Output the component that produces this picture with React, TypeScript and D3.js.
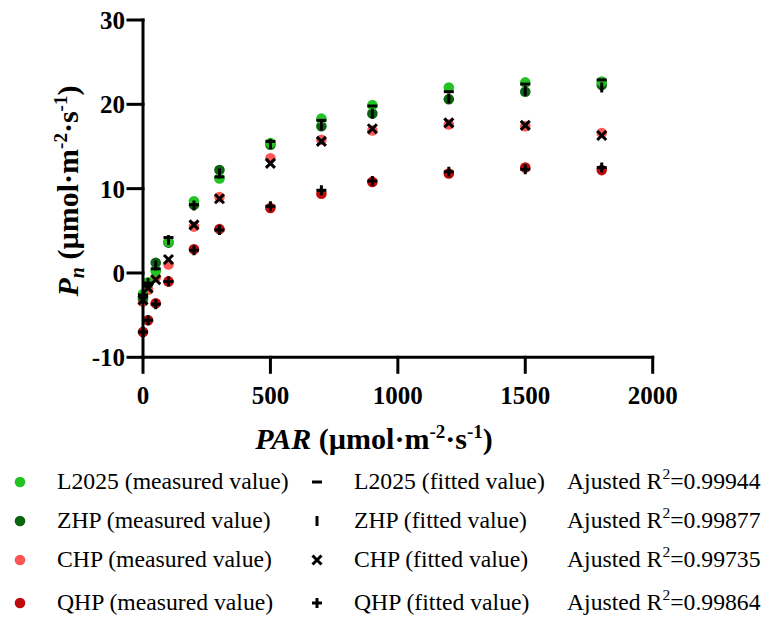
import React from "react";
import * as d3 from "d3";

const PAR = [0, 20, 50, 100, 200, 300, 500, 700, 900, 1200, 1500, 1800];

const L2025_measured = [-2.5, -1.1, 0.2, 3.7, 8.5, 11.2, 15.4, 18.3, 19.9, 22.0, 22.6, 22.7];
const L2025_fitted = [-2.6, -1.2, 0.5, 4.2, 8.1, 11.4, 15.6, 18.1, 19.8, 21.5, 22.4, 22.9];
const ZHP_measured = [-3.0, -1.3, 1.2, 3.6, 8.1, 12.2, 15.2, 17.4, 18.9, 20.6, 21.5, 22.3];
const ZHP_fitted = [-2.9, -1.2, 0.9, 3.9, 8.0, 11.8, 15.3, 17.5, 18.9, 20.7, 21.6, 22.0];
const CHP_measured = [-3.4, -2.0, -0.5, 1.0, 5.5, 9.0, 13.6, 15.8, 16.9, 17.6, 17.4, 16.6];
const CHP_fitted = [-3.2, -1.8, -0.8, 1.6, 5.7, 8.8, 13.0, 15.6, 17.1, 17.8, 17.5, 16.3];
const QHP_measured = [-7.0, -5.6, -3.6, -1.0, 2.8, 5.2, 7.7, 9.4, 10.8, 11.8, 12.5, 12.2];
const QHP_fitted = [-7.0, -5.6, -3.7, -1.0, 2.7, 5.1, 7.9, 9.8, 10.9, 12.0, 12.3, 12.5];

const xTicks = [0, 500, 1000, 1500, 2000];
const yTicks = [-10, 0, 10, 20, 30];

const cultivars = ["L2025", "ZHP", "CHP", "QHP"];
const r2Values = ["0.99944", "0.99877", "0.99735", "0.99864"];

const dotColors = ["#22c322", "#0b6410", "#ff5757", "#be0a0a"];
const markerKinds = ["minus", "vbar", "cross", "plus"];

const measuredSeries = [L2025_measured, ZHP_measured, CHP_measured, QHP_measured];
const fittedSeries = [L2025_fitted, ZHP_fitted, CHP_fitted, QHP_fitted];

const FONT = "'Liberation Serif', 'Times New Roman', serif";

function markerPath(kind: string): string {
  const p = d3.path();
  if (kind === "minus") {
    p.moveTo(-5, 0); p.lineTo(5, 0);
  } else if (kind === "vbar") {
    p.moveTo(0, -5); p.lineTo(0, 5);
  } else if (kind === "cross") {
    p.moveTo(-4.5, -4.5); p.lineTo(4.5, 4.5);
    p.moveTo(-4.5, 4.5); p.lineTo(4.5, -4.5);
  } else {
    p.moveTo(-5, 0); p.lineTo(5, 0);
    p.moveTo(0, -5); p.lineTo(0, 5);
  }
  return p.toString();
}

export default function App() {
  const W = 764, H = 623;
  const x = d3.scaleLinear().domain([0, 2000]).range([143, 652.7]);
  const y = d3.scaleLinear().domain([-10, 30]).range([357.3, 20]);
  const x0 = x(0), yb = y(-10);
  const tick = 15;

  const drawOrder = [3, 2, 1, 0];

  return (
    <svg width={W} height={H} style={{ position: "absolute", left: 0, top: 0, background: "#fff" }}
      fontFamily={FONT}>
      {/* measured dots */}
      {drawOrder.map((si) => (
        <g key={"m" + si}>
          {measuredSeries[si].map((v, i) => (
            <circle key={i} cx={x(PAR[i])} cy={y(v)} r={5.3} fill={dotColors[si]} />
          ))}
        </g>
      ))}
      {/* fitted markers */}
      {drawOrder.map((si) => (
        <g key={"f" + si}>
          {fittedSeries[si].map((v, i) => (
            <path key={i} transform={`translate(${x(PAR[i])},${y(v)})`} d={markerPath(markerKinds[si])}
              stroke="#000" strokeWidth={3} fill="none" />
          ))}
        </g>
      ))}

      {/* axes */}
      <g stroke="#000" strokeWidth={3} strokeLinecap="square">
        <line x1={x0} x2={x0} y1={y(30)} y2={yb} />
        <line x1={x0} x2={x(2000)} y1={yb} y2={yb} />
        {yTicks.map((t) => (
          <line key={"yt" + t} x1={x0 - tick} x2={x0} y1={y(t)} y2={y(t)} />
        ))}
        {xTicks.map((t) => (
          <line key={"xt" + t} x1={x(t)} x2={x(t)} y1={yb} y2={yb + tick} />
        ))}
      </g>
      <g fontSize={25} fontWeight="bold" fill="#000">
        {yTicks.map((t) => (
          <text key={"yl" + t} x={x0 - tick - 3} y={y(t) + 9} textAnchor="end">{t}</text>
        ))}
        {xTicks.map((t) => (
          <text key={"xl" + t} x={x(t)} y={404} textAnchor="middle">{t}</text>
        ))}
      </g>

      {/* axis titles */}
      <text x={374} y={449} textAnchor="middle" fontSize={30} fontWeight="bold">
        <tspan fontStyle="italic">PAR</tspan>
        <tspan> (µmol·m</tspan>
        <tspan fontSize={19} dy={-11}>-2</tspan>
        <tspan dy={11}>·s</tspan>
        <tspan fontSize={19} dy={-11}>-1</tspan>
        <tspan dy={11}>)</tspan>
      </text>
      <text transform={`translate(78,191) rotate(-90)`} textAnchor="middle" fontSize={30} fontWeight="bold">
        <tspan fontStyle="italic">P</tspan>
        <tspan fontStyle="italic" fontSize={20} dy={6}>n</tspan>
        <tspan dy={-6}> (µmol·m</tspan>
        <tspan fontSize={19} dy={-11}>-2</tspan>
        <tspan dy={11}>·s</tspan>
        <tspan fontSize={19} dy={-11}>-1</tspan>
        <tspan dy={11}>)</tspan>
      </text>

      {/* legend */}
      <g fontSize={23.7} fill="#000">
        {cultivars.map((c, i) => {
          const cy = [482, 521, 560, 603][i];
          return (
            <g key={c}>
              <circle cx={20} cy={cy} r={5.3} fill={dotColors[i]} />
              <text x={57} y={cy + 7}>{c} (measured value)</text>
              <path transform={`translate(317,${cy})`} d={markerPath(markerKinds[i])}
                stroke="#000" strokeWidth={3} fill="none" />
              <text x={354} y={cy + 7}>{c} (fitted value)</text>
              <text x={567} y={cy + 7}>
                Ajusted R<tspan fontSize={15.5} dy={-10}>2</tspan>
                <tspan dy={10}>={r2Values[i]}</tspan>
              </text>
            </g>
          );
        })}
      </g>
    </svg>
  );
}
